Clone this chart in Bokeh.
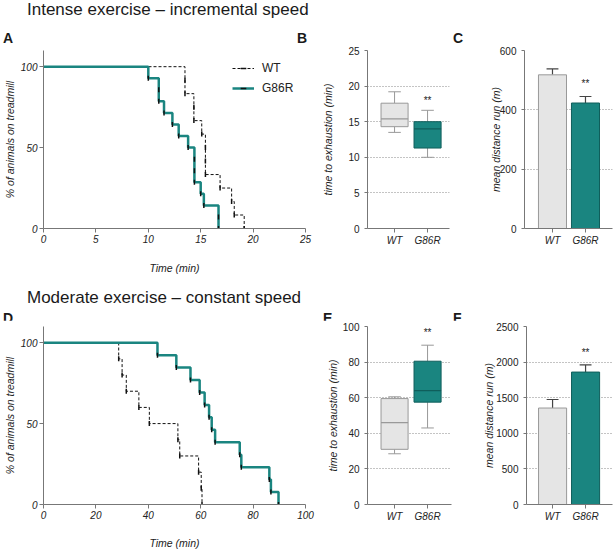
import numpy as np
from bokeh.plotting import figure
from bokeh.models import Range1d, FixedTicker, Legend, LegendItem, Div
from bokeh.layouts import column, row
from bokeh.embed import file_html
from bokeh.resources import INLINE
from bokeh.core.properties import value

FONT = "Liberation Sans"
TEAL = "#1a8580"
TEAL_DARK = "#0f5e5b"
GREY_FILL = "#e5e5e5"
GREY_LINE = "#999999"
AXIS = "#777777"
TXT = "#222222"

groups = ["WT", "G86R"]

# Panel A: individual times to exhaustion (min), incremental speed
A_WT_times = [13.5, 13.5, 14.35, 14.35, 15.1, 15.45, 15.45, 15.45, 16.85, 17.95, 18.2, 19.15]
A_G86R_times = [10.0, 11.0, 11.0, 11.5, 12.3, 12.9, 13.8, 14.4, 14.4, 14.4, 15.0, 15.3, 16.7, 16.7]
# Panel D: constant speed
D_WT_times = [28.7, 30.0, 31.6, 36.4, 40.4, 51.3, 52.0, 59.2, 60.2, 60.5]
D_G86R_times = [43.5, 50.7, 56.1, 59.6, 61.5, 63.2, 64.2, 65.5, 74.9, 75.5, 86.2, 86.8, 89.7]

# Panel B box stats: low whisker, q1, median, q3, high whisker
B_low = [13.5, 10.0]
B_q1 = [14.3, 11.3]
B_med = [15.4, 14.0]
B_q3 = [17.6, 15.0]
B_high = [19.2, 16.6]
B_star = 18.0
# Panel E
E_low = [28.5, 43.0]
E_q1 = [31.0, 57.5]
E_med = [46.0, 64.0]
E_q3 = [59.5, 80.5]
E_high = [60.5, 89.5]
E_star = 96.5
# Panel C bars (mean, SEM)
C_mean = [518, 423]
C_sem = [20, 22]
C_star = 488
# Panel F
F_mean = [1355, 1860]
F_sem = [120, 100]
F_star = 2135

A_xticks = [0, 5, 10, 15, 20, 25]
D_xticks = [0, 20, 40, 60, 80, 100]
KM_yticks = [0, 50, 100]
B_yticks = [0, 5, 10, 15, 20, 25]
C_yticks = [0, 200, 400, 600]
E_yticks = [0, 20, 40, 60, 80, 100]
F_yticks = [0, 500, 1000, 1500, 2000, 2500]

pos = [1, 2]
FH = 178  # frame height
TOP = 6


def km(times):
    t = sorted(times)
    n = len(t)
    xs = [0.0]
    ys = [100.0]
    for i, ti in enumerate(t):
        xs.append(ti)
        ys.append(100.0 * (n - i - 1) / n)
    return xs, ys


def style_axis(ax, italic_labels):
    ax.axis_line_color = AXIS
    ax.major_tick_line_color = AXIS
    ax.minor_tick_line_color = None
    ax.major_tick_out = 4
    ax.major_tick_in = 0
    ax.major_label_text_font = FONT
    ax.major_label_text_font_size = "10px"
    ax.major_label_text_color = TXT
    ax.major_label_text_font_style = "italic" if italic_labels else "normal"
    ax.major_label_standoff = 2
    ax.axis_label_text_font = FONT
    ax.axis_label_text_font_style = "italic"
    ax.axis_label_text_font_size = "10.5px"
    ax.axis_label_text_color = TXT


def km_fig(xend, xticks, wt_times, g_times, bottom, xstandoff, legend=False):
    width = 318
    p = figure(width=width, height=FH + TOP + bottom, x_range=Range1d(0, xend), y_range=Range1d(0, 110),
               output_backend="svg", toolbar_location=None,
               min_border_left=39, min_border_right=13, min_border_top=TOP, min_border_bottom=bottom)
    p.outline_line_color = None
    p.xgrid.visible = False
    p.ygrid.visible = False
    p.xaxis.ticker = FixedTicker(ticks=xticks)
    p.yaxis.ticker = FixedTicker(ticks=KM_yticks)
    style_axis(p.xaxis[0], True)
    style_axis(p.yaxis[0], True)
    p.xaxis.axis_label = "Time (min)"
    p.xaxis.axis_label_standoff = xstandoff
    p.yaxis.axis_label = "% of animals on treadmill"
    p.yaxis.axis_label_standoff = 2
    wx, wy = km(wt_times)
    gx, gy = km(g_times)
    l1 = p.step(wx, wy, mode="after", line_color="#111111", line_width=1, line_dash="3 2")
    t1 = p.scatter(wx[1:], wy[1:], marker="dash", angle=np.pi / 2, size=5, line_color="#111111", line_width=1.5)
    l2 = p.step(gx, gy, mode="after", line_color=TEAL, line_width=2.5)
    t2 = p.scatter(gx[1:], gy[1:], marker="dash", angle=np.pi / 2, size=5, line_color="#111111", line_width=1.5)
    if legend:
        lg = Legend(items=[LegendItem(label="WT", renderers=[l1, t1]),
                           LegendItem(label="G86R", renderers=[l2, t2])],
                    location=(189, 133), padding=0, margin=0, spacing=6,
                    glyph_width=22, glyph_height=14, label_standoff=8,
                    label_text_font=FONT, label_text_font_size="12px", label_text_color=TXT,
                    background_fill_alpha=0, border_line_color=None)
        p.add_layout(lg)
    return p


def cat_fig(width, left, fw, xstart, yend, yticks, ylabel, standoff, bottom):
    p = figure(width=width, height=FH + TOP + bottom, x_range=Range1d(xstart, xstart + fw / 33.0),
               y_range=Range1d(0, yend),
               output_backend="svg", toolbar_location=None,
               min_border_left=left, min_border_right=width - left - fw, min_border_top=TOP,
               min_border_bottom=bottom)
    p.outline_line_color = None
    p.xgrid.visible = False
    p.ygrid.grid_line_color = "#888888"
    p.ygrid.grid_line_dash = "1 2"
    p.ygrid.grid_line_width = 1
    p.xaxis.ticker = FixedTicker(ticks=pos)
    p.xaxis.major_label_overrides = {1: groups[0], 2: groups[1]}
    p.yaxis.ticker = FixedTicker(ticks=yticks)
    style_axis(p.xaxis[0], True)
    style_axis(p.yaxis[0], False)
    p.yaxis.major_tick_out = 3
    p.yaxis.major_label_standoff = 5
    p.yaxis.axis_label = ylabel
    p.yaxis.axis_label_standoff = standoff
    return p


def boxes(p, low, q1, med, q3, high, star):
    fills = [GREY_FILL, TEAL]
    edges = [GREY_LINE, TEAL_DARK]
    p.segment(pos, q3, pos, high, line_color=GREY_LINE, line_width=1)
    p.segment(pos, low, pos, q1, line_color=GREY_LINE, line_width=1)
    p.segment([x - 0.19 for x in pos], high, [x + 0.19 for x in pos], high, line_color=GREY_LINE, line_width=1)
    p.segment([x - 0.19 for x in pos], low, [x + 0.19 for x in pos], low, line_color=GREY_LINE, line_width=1)
    p.vbar(x=pos, bottom=q1, top=q3, width=0.82, fill_color=fills, line_color=edges, line_width=1)
    p.segment([x - 0.41 for x in pos], med, [x + 0.41 for x in pos], med, line_color=edges, line_width=1.2)
    p.text([pos[1]], [star], text=["**"], text_font=value(FONT), text_font_size="10px",
           text_align="center", text_baseline="middle", text_color=TXT)


def bars(p, mean, sem, star):
    tops = [m + s for m, s in zip(mean, sem)]
    p.segment(pos, mean, pos, tops, line_color="#444444", line_width=1.2)
    p.segment([x - 0.18 for x in pos], tops, [x + 0.18 for x in pos], tops, line_color="#444444", line_width=1.2)
    p.vbar(x=pos, top=mean, bottom=0, width=0.85, fill_color=[GREY_FILL, TEAL],
           line_color=[GREY_LINE, TEAL_DARK], line_width=1)
    p.text([pos[1]], [star], text=["**"], text_font=value(FONT), text_font_size="10px",
           text_align="center", text_baseline="middle", text_color=TXT)


B1 = 51  # bottom border row 1
B2 = 47  # bottom border row 2

pA = km_fig(25, A_xticks, A_WT_times, A_G86R_times, B1, 16, legend=True)
pB = cat_fig(134, 49, 82, 0.18, 25, B_yticks, "time to exhaustion (min)", 11, B1)
boxes(pB, B_low, B_q1, B_med, B_q3, B_high, B_star)
pC = cat_fig(162, 72, 88, 0.152, 600, C_yticks, "mean distance run (m)", -5, B1)
bars(pC, C_mean, C_sem, C_star)

pD = km_fig(100, D_xticks, D_WT_times, D_G86R_times, B2, 15)
pE = cat_fig(134, 49, 84, 0.18, 100, E_yticks, "time to exhaustion (min)", 1, B2)
boxes(pE, E_low, E_q1, E_med, E_q3, E_high, E_star)
pF = cat_fig(162, 74, 86, 0.21, 2500, F_yticks, "mean distance run (m)", -2, B2)
bars(pF, F_mean, F_sem, F_star)


def header(title, title_top, letters, letter_top, height):
    parts = ['<div style="position:relative; width:614px; height:%dpx; font-family:\'Liberation Sans\'; color:#1a1a1a;">' % height,
             '<div style="position:absolute; left:27px; top:%dpx; font-size:17px; line-height:17px; white-space:nowrap;">%s</div>'
             % (title_top, title)]
    for txt, left in letters:
        parts.append('<div style="position:absolute; left:%dpx; top:%dpx; font-size:14px; line-height:14px; font-weight:bold;">%s</div>'
                     % (left, letter_top, txt))
    parts.append('</div>')
    return Div(text="".join(parts), width=614, height=height, margin=(0, 0, 0, 0))


d1 = header("Intense exercise – incremental speed", 1, [("A", 3), ("B", 297), ("C", 453)], 31, 44)
d2 = header("Moderate exercise – constant speed", 10, [("D", 3), ("E", 323), ("F", 453)], 32, 41)

layout = column(d1, row(pA, pB, pC), d2, row(pD, pE, pF))
open("out.html", "w").write(file_html(layout, INLINE))
